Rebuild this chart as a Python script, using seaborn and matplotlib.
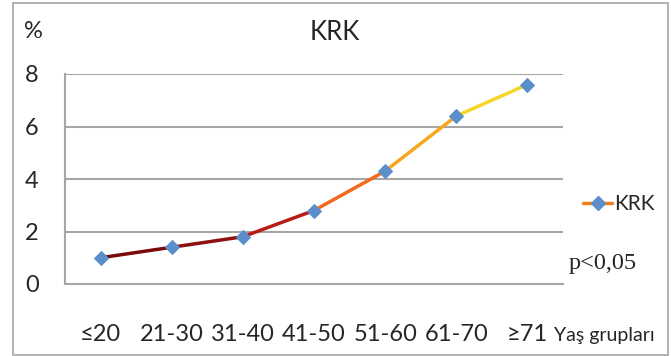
import numpy as np
import pandas as pd
import matplotlib
matplotlib.use("Agg")
import matplotlib.pyplot as plt
import seaborn as sns
from matplotlib.collections import LineCollection
from matplotlib.lines import Line2D
from matplotlib.patches import Rectangle

# data
age_groups = ["≤20", "21-30", "31-40", "41-50", "51-60", "61-70", "≥71"]
krk_pct = [1.0, 1.4, 1.8, 2.8, 4.3, 6.4, 7.6]
y_ticks = [0, 2, 4, 6, 8]

# colours of each piece of the line, dark red -> yellow
seg_colors = ["#7a0a0a", "#8e1010", "#b81c14", "#e2361c", "#f26a1c", "#f7a81e", "#f5d62a"]

sns.set_style("white")
plt.rcParams["font.family"] = ["Lato", "DejaVu Sans"]

df = pd.DataFrame({"grp": age_groups, "val": krk_pct})
df["x"] = np.arange(len(df))

fig = plt.figure(figsize=(6.71, 3.56), dpi=100)
ax = fig.add_axes([65 / 671, 1 - 284 / 356, (563 - 65) / 671, (284 - 74) / 356])

for yv in y_ticks[1:]:
    ax.axhline(yv, color="#a6a6a6", lw=1.5, zorder=1)

# gradient-ish line, one colour per segment between data points
pts = df[["x", "val"]].to_numpy()
segs = np.stack([pts[:-1], pts[1:]], axis=1)
cols = [seg_colors[i] if i < 3 else seg_colors[i + 1] for i in range(len(segs))]
lc = LineCollection(segs, colors=cols, linewidths=2.5, zorder=2, capstyle="round")
ax.add_collection(lc)

sns.lineplot(data=df, x="x", y="val", ax=ax, lw=0, marker="D", markersize=7.5,
             markerfacecolor="#5b8fcb", markeredgecolor="#5b8fcb", zorder=3, legend=False)

ax.set_xlim(-0.5, len(df) - 0.5)
ax.set_ylim(0, 8)
ax.set_yticks(y_ticks)
ax.set_xticks(df["x"])
ax.set_xticklabels(age_groups)
ax.set_xticks(np.arange(len(df) + 1) - 0.5, minor=True)
ax.tick_params(axis="x", which="major", length=0, pad=29, labelsize=17)
ax.tick_params(axis="x", which="minor", length=7, width=1.5, color="#a6a6a6", direction="out")
ax.tick_params(axis="y", length=8, width=1.5, color="#a6a6a6", direction="out", pad=16, labelsize=17)
for lab in ax.get_yticklabels():
    lab.set_horizontalalignment("center")
ax.set_xlabel("")
ax.set_ylabel("")

for s in ["top", "right"]:
    ax.spines[s].set_visible(False)
for s in ["left", "bottom"]:
    ax.spines[s].set_color("#a6a6a6")
    ax.spines[s].set_linewidth(1.5)

fig.text(335 / 671, 1 - 33 / 356, "KRK", ha="center", va="center", fontsize=18.5)
fig.text(33 / 671, 1 - 31 / 356, "%", ha="center", va="center", fontsize=17)
fig.text(604 / 671, 1 - 336 / 356, "Yaş grupları", ha="center", va="center", fontsize=14)
fig.text(569 / 671, 1 - 263 / 356, "p<0,05", ha="left", va="center", fontsize=17.5,
         family=["Liberation Serif", "DejaVu Serif"])

handle = Line2D([0], [0], color="#f0801e", lw=2.5, marker="D", markersize=7.5,
                markerfacecolor="#5b8fcb", markeredgecolor="#5b8fcb")
fig.legend([handle], ["KRK"], loc="center left", bbox_to_anchor=(583 / 671, 1 - 204 / 356),
           frameon=False, fontsize=15, handlelength=1.4, handletextpad=0.1, borderaxespad=0,
           borderpad=0)

fig.patches.append(Rectangle((13 / 671, 1 / 356), 655 / 671, 352 / 356, transform=fig.transFigure,
                             fill=False, edgecolor="#a6a6a6", lw=1.2))

fig.savefig("out.png", dpi=100)
